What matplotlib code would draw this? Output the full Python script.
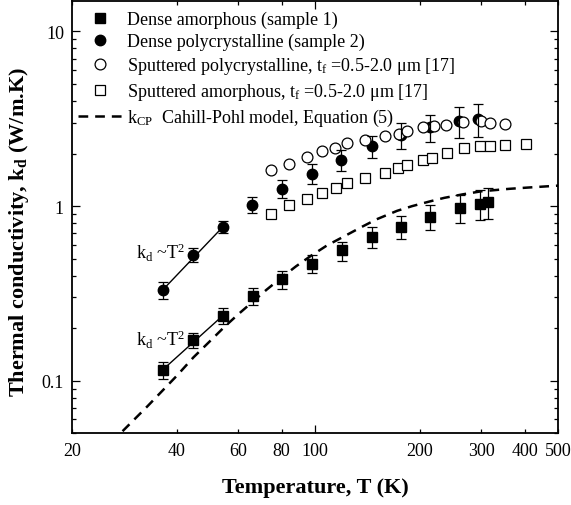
import matplotlib
matplotlib.use("Agg")
import matplotlib.pyplot as plt
from matplotlib.ticker import FixedLocator, FuncFormatter, NullFormatter, LogLocator
from matplotlib.lines import Line2D

plt.rcParams['font.family'] = ['Liberation Serif', 'DejaVu Serif']
plt.rcParams['mathtext.fontset'] = 'custom'
plt.rcParams['mathtext.rm'] = 'Liberation Serif'
plt.rcParams['mathtext.it'] = 'Liberation Serif:italic'
plt.rcParams['mathtext.bf'] = 'Liberation Serif:bold'
plt.rcParams['lines.scale_dashes'] = False

# ---------------- data ----------------
# Dense amorphous (sample 1)
T_am = [36.4, 44.4, 54.2, 66.0, 80.0, 98.0, 119.0, 145.3, 176.1, 213.9, 261.2, 297.9, 313.0]
k_am = [0.1155, 0.170, 0.236, 0.305, 0.380, 0.469, 0.557, 0.667, 0.761, 0.868, 0.977, 1.033, 1.056]
e_am = [0.013, 0.017, 0.024, 0.034, 0.045, 0.057, 0.070, 0.090, 0.115, 0.140, 0.175, 0.200, 0.210]

# Dense polycrystalline (sample 2)
T_pc = [36.4, 44.4, 54.2, 65.6, 80.0, 97.6, 118.6, 145.3, 176.1, 213.9, 259.7, 294.4]
k_pc = [0.331, 0.524, 0.760, 1.02, 1.259, 1.533, 1.843, 2.206, 2.57, 2.83, 3.09, 3.16]
e_pc = [0.036, 0.048, 0.060, 0.11, 0.15, 0.20, 0.26, 0.33, 0.44, 0.51, 0.62, 0.66]

# Sputtered polycrystalline [17]
T_spc = [74.4, 84.2, 94.5, 104.4, 114.0, 123.6, 139.0, 158.7, 174.5, 183.3, 203.8, 219.7,
         237.7, 266.6, 299.2, 318.2, 352.0]
k_spc = [1.615, 1.748, 1.909, 2.066, 2.149, 2.295, 2.406, 2.516, 2.593, 2.708, 2.832, 2.870,
         2.919, 3.024, 3.09, 2.997, 2.94]

# Sputtered amorphous [17]
T_sam = [74.4, 84.2, 94.5, 104.4, 114.5, 123.6, 139.0, 158.7, 172.9, 183.8, 203.8, 217.2,
         239.7, 268.3, 296.7, 318.2, 352.0, 402.7]
k_sam = [0.906, 1.01, 1.104, 1.19, 1.27, 1.356, 1.449, 1.553, 1.659, 1.71, 1.826, 1.891,
         2.012, 2.149, 2.206, 2.22, 2.24, 2.275]

# Cahill-Pohl model curve
T_cp = [27.9, 32.9, 40.0, 44.6, 50.0, 55.0, 60.0, 66.0, 72.4, 80.0, 88.0, 97.0, 108.0, 120.0,
        136.0, 150.0, 172.0, 190.0, 214.0, 235.0, 267.0, 300.0, 360.0, 404.0, 479.0, 500.0]
k_cp = [0.0514, 0.0714, 0.107, 0.136, 0.170, 0.205, 0.240, 0.283, 0.332, 0.390, 0.452, 0.518,
        0.595, 0.665, 0.760, 0.840, 0.940, 1.00, 1.065, 1.115, 1.170, 1.215, 1.255, 1.275,
        1.303, 1.31]

# k ~ T^2 guide lines
T_fit = [36.4, 54.2]
k_fit_pc = [0.331, 0.760]
k_fit_am = [0.1155, 0.236]

x_ticklabels = [20, 40, 60, 80, 100, 200, 300, 400, 500]
y_ticklabels = [0.1, 1, 10]

labels = ['Dense amorphous (sample 1)',
          'Dense polycrystalline (sample 2)',
          'Sputtered polycrystalline, t$_{\\rm f}$ =0.5-2.0 \u03bcm [17]',
          'Sputtered amorphous, t$_{\\rm f}$ =0.5-2.0 \u03bcm [17]',
          'k$_{\\rm CP}$  Cahill-Pohl model, Equation (5)']

# ---------------- figure ----------------
fig = plt.figure(figsize=(5.71, 5.06), dpi=100)
ax = fig.add_axes([0.1266, 0.1417, 0.8512, 0.8549])
ax.set_xscale('log')
ax.set_yscale('log')
ax.set_xlim(20, 500)
ax.set_ylim(0.05, 15)

# model curve
ax.plot(T_cp, k_cp, color='black', lw=1.8, dashes=(7, 5), zorder=2)

# fit lines
ax.plot(T_fit, k_fit_pc, color='black', lw=1.0, zorder=2)
ax.plot(T_fit, k_fit_am, color='black', lw=1.0, zorder=2)

# dense markers
ax.plot(T_am, k_am, 's', color='black', ms=6.8, zorder=3)
ax.plot(T_pc, k_pc, 'o', color='black', ms=7.5, zorder=3)

# sputtered (open) markers
ax.plot(T_spc, k_spc, 'o', mfc='white', mec='black', mew=0.9, ms=7.8, zorder=4)
ax.plot(T_sam, k_sam, 's', mfc='white', mec='black', mew=0.9, ms=6.8, zorder=4)

# error bars
ax.errorbar(T_am, k_am, yerr=e_am, fmt='none', ecolor='black', elinewidth=0.9,
            capsize=3.5, capthick=0.9, zorder=5)
ax.errorbar(T_pc, k_pc, yerr=e_pc, fmt='none', ecolor='black', elinewidth=0.9,
            capsize=3.5, capthick=0.9, zorder=5)

# annotations
ax.text(42.2, 0.549, 'k$_{\\rm d}$ ~T$^2$', fontsize=13, ha='right', va='center')
ax.text(42.2, 0.173, 'k$_{\\rm d}$ ~T$^2$', fontsize=13, ha='right', va='center')

# ticks
ax.xaxis.set_major_locator(FixedLocator([100]))
ax.xaxis.set_minor_locator(FixedLocator([v for v in x_ticklabels if v != 100]))
fmt = FuncFormatter(lambda v, p: '%g' % v)
ax.xaxis.set_major_formatter(fmt)
ax.xaxis.set_minor_formatter(fmt)
ax.yaxis.set_major_locator(LogLocator(base=10, numticks=10))
ax.yaxis.set_minor_locator(LogLocator(base=10, subs=[2, 3, 4, 5, 6, 7, 8, 9], numticks=20))
ax.yaxis.set_major_formatter(FuncFormatter(lambda v, p: '%g' % v if v in y_ticklabels else ''))
ax.yaxis.set_minor_formatter(NullFormatter())

ax.tick_params(which='both', direction='in', top=True, right=True, labelsize=13, width=0.9)
ax.tick_params(which='major', length=5.5, pad=6)
ax.tick_params(which='minor', length=2.7, pad=6)
for s in ax.spines.values():
    s.set_linewidth(1.3)

ax.set_xlabel('Temperature, T (K)', fontsize=16, fontweight='bold')
ax.xaxis.set_label_coords(0.5, -0.100)
ax.set_ylabel('Thermal conductivity, k$_\\mathbf{d}$ (W/m.K)', fontsize=16, fontweight='bold')
ax.yaxis.set_label_coords(-0.084, 0.468)

# legend
handles = [
    Line2D([], [], marker='s', ls='none', color='black', ms=6.8),
    Line2D([], [], marker='o', ls='none', color='black', ms=7.5),
    Line2D([], [], marker='o', ls='none', mfc='white', mec='black', mew=0.9, ms=7.8),
    Line2D([], [], marker='s', ls='none', mfc='white', mec='black', mew=0.9, ms=6.8),
    Line2D([], [], color='black', lw=1.8, dashes=(7, 5)),
]
ax.legend(handles, labels, loc='upper left', bbox_to_anchor=(0.0117, 0.977),
          frameon=False, fontsize=13, handlelength=2.44, handletextpad=0.25,
          labelspacing=0.27, borderpad=0, borderaxespad=0)

fig.savefig('out.png', dpi=100)
